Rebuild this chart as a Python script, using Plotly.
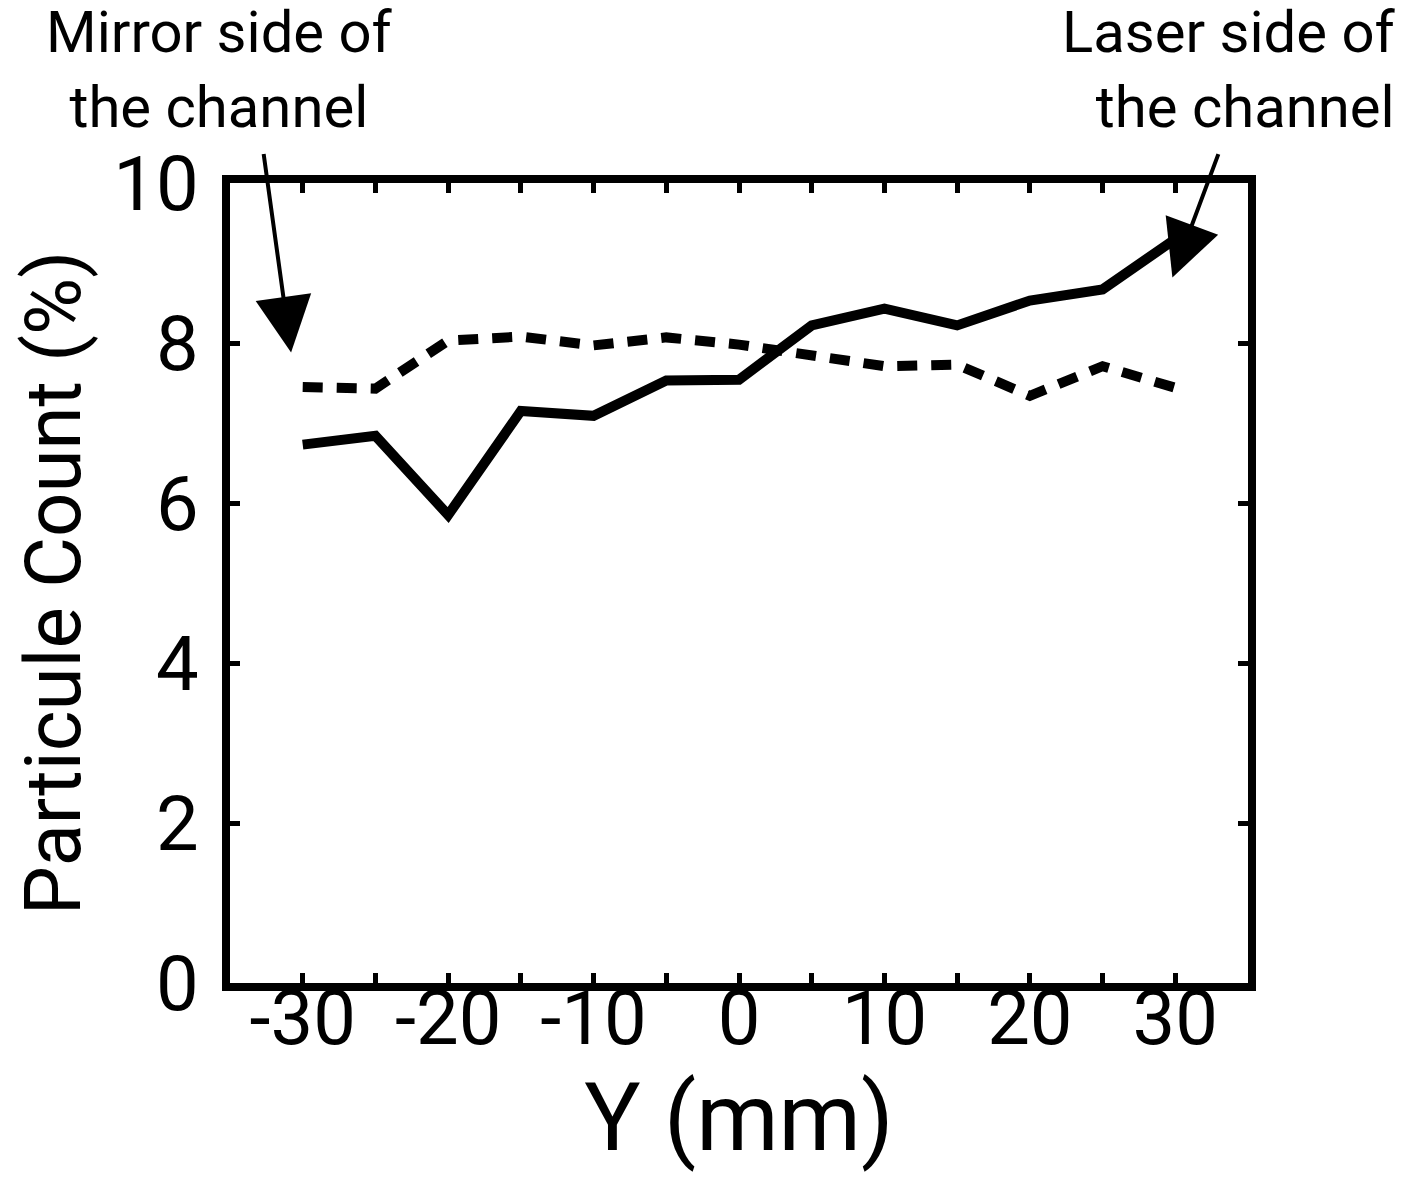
import plotly.graph_objects as go

# Data
y_mm = [-30, -25, -20, -15, -10, -5, 0, 5, 10, 15, 20, 25, 30]
solid_count = [6.73, 6.84, 5.85, 7.15, 7.09, 7.53, 7.54, 8.22, 8.43, 8.22, 8.53, 8.67, 9.30]
dashed_count = [7.45, 7.43, 8.03, 8.08, 7.97, 8.07, 7.98, 7.84, 7.71, 7.73, 7.34, 7.71, 7.44]

x_tickvals = [-30, -25, -20, -15, -10, -5, 0, 5, 10, 15, 20, 25, 30]
x_ticktext = ["-30", "", "-20", "", "-10", "", "0", "", "10", "", "20", "", "30"]
y_tickvals = [0, 2, 4, 6, 8, 10]
y_ticktext = ["0", "2", "4", "6", "8", "10"]

mirror_label = "Mirror side of<br>the channel"
laser_label = "Laser side of<br>the channel"
# arrow (tail -> head) in data units
mirror_arrow_tail = (-32.7, 10.38)
mirror_arrow_head = (-30.8, 7.88)
laser_arrow_tail = (33.0, 10.38)
laser_arrow_head = (29.8, 8.82)

FONT = "Roboto, Open Sans, sans-serif"

W, H = 1404, 1179
ML, MR, MT, MB = 222, 164, 175, 204

fig = go.Figure()
fig.add_trace(go.Scatter(x=y_mm, y=solid_count, mode="lines",
                         line=dict(color="black", width=10), showlegend=False))
fig.add_trace(go.Scatter(x=y_mm, y=dashed_count, mode="lines",
                         line=dict(color="black", width=10, dash="20px,14px"), showlegend=False))

for (tx, ty), (hx, hy) in [(mirror_arrow_tail, mirror_arrow_head), (laser_arrow_tail, laser_arrow_head)]:
    fig.add_annotation(x=hx, y=hy, ax=tx, ay=ty, xref="x", yref="y", axref="x", ayref="y",
                       showarrow=True, arrowhead=2, arrowsize=2.8, arrowwidth=4,
                       arrowcolor="black", text="")

def px_x(p):
    return (p - ML) / (W - ML - MR)

def px_y(p):
    return ((H - p) - MB) / (H - MT - MB)

fig.add_annotation(text=mirror_label, x=px_x(211), y=px_y(62), xref="paper", yref="paper",
                   showarrow=False, align="center", font=dict(family=FONT, size=58, color="black"),
                   xanchor="center", yanchor="middle")
fig.add_annotation(text=laser_label, x=px_x(1389), y=px_y(62), xref="paper", yref="paper",
                   showarrow=False, align="right", font=dict(family=FONT, size=58, color="black"),
                   xanchor="right", yanchor="middle")

fig.update_layout(
    width=W, height=H,
    margin=dict(l=ML, r=MR, t=MT, b=MB, autoexpand=False),
    paper_bgcolor="white", plot_bgcolor="white",
    font=dict(family=FONT, color="black"),
)

fig.update_xaxes(range=[-35, 35], tickvals=x_tickvals, ticktext=x_ticktext,
                 ticks="inside", ticklen=10, tickwidth=5, tickcolor="black",
                 showline=True, linewidth=8, linecolor="black", mirror="ticks",
                 showgrid=False, zeroline=False, automargin=False,
                 ticklabelstandoff=-38,
                 tickfont=dict(family=FONT, size=76, color="black"),
                 title=dict(text="Y (mm)", font=dict(family=FONT, size=94, color="black"), standoff=12))
fig.update_yaxes(range=[0, 10], tickvals=y_tickvals, ticktext=y_ticktext,
                 ticks="inside", ticklen=10, tickwidth=5, tickcolor="black",
                 showline=True, linewidth=8, linecolor="black", mirror="ticks",
                 showgrid=False, zeroline=False, automargin=True,
                 ticklabelstandoff=8,
                 tickfont=dict(family=FONT, size=76, color="black"),
                 title=dict(text="Particule Count (%)", font=dict(family=FONT, size=78, color="black"), standoff=42))

fig.write_html("out.html")
